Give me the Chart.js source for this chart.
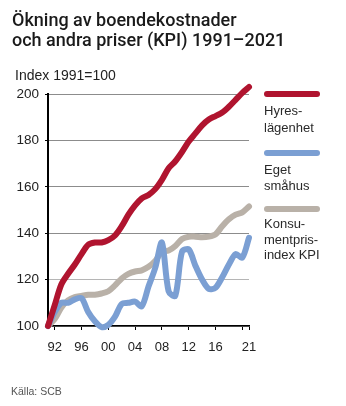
<!DOCTYPE html>
<html>
<head>
<meta charset="utf-8">
<script src="https://cdn.jsdelivr.net/npm/chart.js@4.4.0/dist/chart.umd.min.js"></script>
<style>
  body { margin: 0; background: #fff; }
  canvas { display: block; }
</style>
</head>
<body>
<canvas id="chart" width="346" height="406"></canvas>
<script>
// Index 1991 = 100
const years = [1991, 1992, 1993, 1994, 1995, 1996, 1997, 1998, 1999, 2000,
               2001, 2002, 2003, 2004, 2005, 2006, 2007, 2008, 2009, 2010,
               2011, 2012, 2013, 2014, 2015, 2016, 2017, 2018, 2019, 2020, 2021];

const hyreslagenhet = [100, 109, 118, 122.5, 126.5, 131, 135, 136, 136, 137,
                       139, 143, 148, 152, 155, 156.5, 159, 163, 168, 171,
                       175, 179.5, 183, 186.5, 189, 190.5, 192, 194.5, 197.5, 200.5, 203];

const egetSmahus = [100, 106, 110, 110, 111.5, 112, 106, 102, 99.5, 100.5,
                    104, 109.5, 110, 110.5, 108.5, 117, 125, 136, 115, 113,
                    132, 133, 126, 120, 116, 116.5, 121, 126.5, 131, 129.5, 138];

const kpi = [100, 103, 108, 111, 112.5, 113, 113.5, 113.5, 114, 115,
             117.5, 120.5, 122.5, 123.5, 124, 125.5, 128, 132, 132.5, 134.5,
             137.5, 138.5, 138.5, 138.3, 138.5, 139.5, 143, 146, 148, 149, 151.5];

const xTickYears = [1992, 1996, 2000, 2004, 2008, 2012, 2016, 2020, 2021];
const xTickLabels = ['92', '96', '00', '04', '08', '12', '16', '', '21'];
const yTicks = [100, 120, 140, 160, 180, 200];

const seriesNames = [['Hyres-', 'lägenhet'], ['Eget', 'småhus'], ['Konsu-', 'mentpris-', 'index KPI']];
const seriesColors = ['#b0142f', '#7b9fd3', '#b9b1a8'];

const FONT = '"Liberation Sans", Arial, sans-serif';

function toPoints(values) {
    return years.map((y, i) => ({ x: y, y: values[i] }));
}

// title, axis note, legend and source text
const textPlugin = {
    id: 'texts',
    afterDraw(chart) {
        const ctx = chart.ctx;
        ctx.save();
        ctx.textBaseline = 'alphabetic';
        ctx.textAlign = 'left';

        ctx.fillStyle = '#1a1a1a';
        ctx.font = '500 18px Roboto, ' + FONT;
        ctx.fillText('Ökning av boendekostnader', 12, 26);
        ctx.fillText('och andra priser (KPI) 1991–2021', 12, 46);

        ctx.fillStyle = '#222';
        ctx.font = '14px ' + FONT;
        ctx.fillText('Index 1991=100', 15, 80);

        // legend
        const lineY = [94, 153, 209];
        const textY = [[115, 132], [174, 190], [228, 244, 259]];
        ctx.lineCap = 'round';
        ctx.lineWidth = 6;
        for (let i = 0; i < 3; i++) {
            ctx.strokeStyle = seriesColors[i];
            ctx.beginPath();
            ctx.moveTo(267, lineY[i]);
            ctx.lineTo(317, lineY[i]);
            ctx.stroke();
            ctx.fillStyle = '#2a2a2a';
            ctx.font = '13px ' + FONT;
            seriesNames[i].forEach((t, j) => ctx.fillText(t, 264, textY[i][j]));
        }

        ctx.fillStyle = '#555';
        ctx.font = '10.5px ' + FONT;
        ctx.fillText('Källa: SCB', 11, 395);
        ctx.restore();
    }
};

const ctx = document.getElementById('chart').getContext('2d');
const datasets = [hyreslagenhet, egetSmahus, kpi].map((vals, i) => ({
    label: seriesNames[i].join(''),
    data: toPoints(vals),
    borderColor: seriesColors[i],
    borderWidth: 6,
    pointRadius: 0,
    tension: 0.3,
    borderCapStyle: 'round',
    borderJoinStyle: 'round',
    clip: false
}));

new Chart(ctx, {
    type: 'line',
    data: { datasets },
    options: {
        responsive: false,
        animation: false,
        devicePixelRatio: 1,
        layout: { padding: { left: 0, right: 97, top: 94, bottom: 50 } },
        plugins: { legend: { display: false }, tooltip: { enabled: false } },
        scales: {
            x: {
                type: 'linear',
                min: 1991,
                max: 2021,
                afterBuildTicks(scale) {
                    scale.ticks = xTickYears.map(v => ({ value: v }));
                },
                afterFit(scale) { scale.height = 30; },
                ticks: {
                    autoSkip: false,
                    maxRotation: 0,
                    padding: 10,
                    color: '#222',
                    font: { family: FONT, size: 13 },
                    callback: (v) => xTickLabels[xTickYears.indexOf(v)]
                },
                grid: {
                    drawOnChartArea: false,
                    tickLength: 4,
                    tickColor: '#000',
                    tickWidth: 1
                },
                border: { display: true, color: '#000', width: 1.5 }
            },
            y: {
                min: 100,
                max: 200,
                afterBuildTicks(scale) {
                    scale.ticks = yTicks.map(v => ({ value: v }));
                },
                afterFit(scale) { scale.width = 48; },
                ticks: {
                    padding: 6,
                    color: '#222',
                    font: { family: FONT, size: 13.5 }
                },
                grid: {
                    color: (c) => c.tick && c.tick.value === 120 ? '#b5b5b5' : '#8c8c8c',
                    lineWidth: 1,
                    tickLength: 3,
                    tickColor: '#000'
                },
                border: { display: true, color: '#000', width: 2 }
            }
        }
    },
    plugins: [textPlugin]
});
</script>
</body>
</html>
